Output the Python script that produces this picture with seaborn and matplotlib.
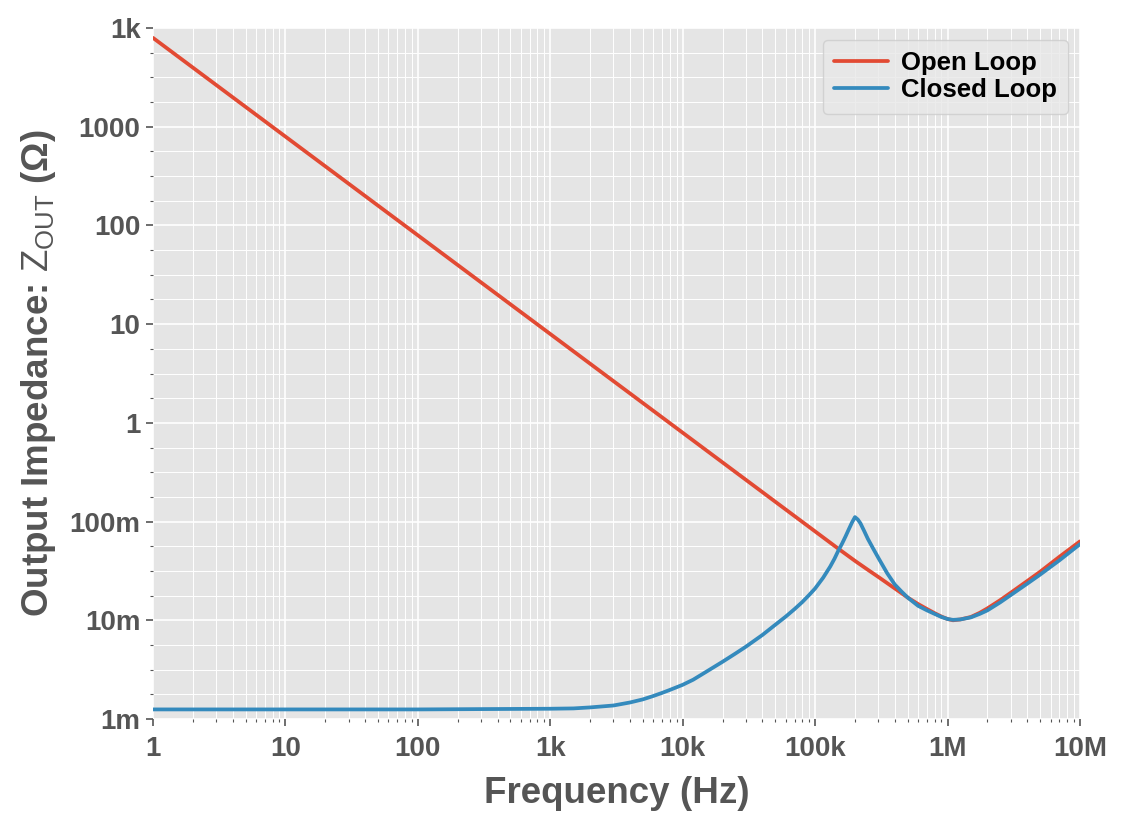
#!/usr/bin/env python3
"""
Output impedance of a regulator: open loop vs closed loop (log-log).
"""

import numpy as np
import pandas as pd
import matplotlib
matplotlib.use('Agg')
import matplotlib.pyplot as plt
from matplotlib.ticker import LogLocator, NullFormatter
import seaborn as sns

# Values
open_freq = [1, 10, 100, 1e3, 1e4, 3e4, 1e5, 1.5e5, 2e5, 2.5e5, 3e5, 3.5e5,
             4e5, 4.5e5, 5e5, 6e5, 7e5, 8e5, 9e5, 1.0e6, 1.1e6, 1.25e6,
             1.5e6, 1.75e6, 2e6, 2.5e6, 3e6, 4e6, 5e6, 7e6, 1e7]
open_z = [7950, 795, 79.5, 7.95, 0.795, 0.265, 0.0795, 0.053, 0.040, 0.0325,
          0.0275, 0.0238, 0.021, 0.0188, 0.0170, 0.0146, 0.0130, 0.0118,
          0.0109, 0.0103, 0.0100, 0.0102, 0.0108, 0.0119, 0.0132, 0.0160,
          0.0190, 0.0250, 0.0310, 0.0440, 0.0630]

closed_freq = [1, 10, 100, 1e3, 1.5e3, 2e3, 3e3, 4e3, 5e3, 6e3, 7e3, 8e3,
               1e4, 1.2e4, 1.5e4, 2e4, 2.5e4, 3e4, 4e4, 5e4, 6e4, 7e4, 8e4,
               9e4, 1e5, 1.15e5, 1.3e5, 1.4e5, 1.5e5, 1.6e5, 1.7e5, 1.8e5,
               1.9e5, 2e5, 2.1e5, 2.2e5, 2.35e5, 2.5e5, 2.75e5, 3e5, 3.5e5,
               4e5, 4.5e5, 5e5, 6e5, 7e5, 8e5, 9e5, 1e6, 1.1e6, 1.25e6,
               1.5e6, 1.75e6, 2e6, 2.5e6, 3e6, 4e6, 5e6, 7e6, 1e7]
closed_z = [1.25e-3, 1.25e-3, 1.25e-3, 1.27e-3, 1.28e-3, 1.31e-3, 1.37e-3,
            1.47e-3, 1.58e-3, 1.71e-3, 1.84e-3, 1.97e-3, 2.22e-3, 2.5e-3,
            3.0e-3, 3.8e-3, 4.6e-3, 5.4e-3, 7.1e-3, 9.0e-3, 10.9e-3,
            13.0e-3, 15.3e-3, 18e-3, 21e-3, 27e-3, 35e-3, 42e-3, 51e-3,
            60e-3, 71e-3, 84e-3, 98e-3, 111e-3, 105e-3, 96e-3, 80e-3,
            67e-3, 53e-3, 43e-3, 30e-3, 23e-3, 19.5e-3, 17e-3, 14e-3,
            12.6e-3, 11.6e-3, 10.8e-3, 10.3e-3, 10.1e-3, 10.2e-3, 10.7e-3,
            11.6e-3, 12.6e-3, 15.2e-3, 18.0e-3, 23.5e-3, 29e-3, 40.5e-3,
            59e-3]

y_ticks = [1e-3, 1e-2, 1e-1, 1, 10, 100, 1000, 1e4]
y_tick_labels = ['1m', '10m', '100m', '1', '10', '100', '1000', '1k']
x_ticks = [1, 10, 100, 1e3, 1e4, 1e5, 1e6, 1e7]
x_tick_labels = ['1', '10', '100', '1k', '10k', '100k', '1M', '10M']

df = pd.concat([
    pd.DataFrame({'freq': open_freq, 'z': open_z, 'loop': 'Open Loop'}),
    pd.DataFrame({'freq': closed_freq, 'z': closed_z, 'loop': 'Closed Loop'}),
])

sns.set_theme(style='darkgrid', rc={
    'axes.facecolor': '#E5E5E5',
    'grid.color': 'white',
    'xtick.bottom': True,
    'ytick.left': True,
    'xtick.minor.bottom': True,
    'ytick.minor.left': True,
})
plt.rcParams['font.family'] = ['Liberation Sans', 'DejaVu Sans']
plt.rcParams['mathtext.fontset'] = 'custom'
plt.rcParams['mathtext.rm'] = 'Liberation Sans'

fig = plt.figure(figsize=(11.26, 8.25), dpi=100)
ax = fig.add_axes([0.1359, 0.1285, 0.8232, 0.8375])

sns.lineplot(data=df, x='freq', y='z', hue='loop', sort=False,
             palette={'Open Loop': '#E24A33', 'Closed Loop': '#348ABD'},
             linewidth=2.7, ax=ax)

ax.set_xscale('log')
ax.set_yscale('log')
ax.set_xlim(1, 1e7)
ax.set_ylim(1e-3, 1e4)

ax.set_xticks(x_ticks)
ax.set_xticklabels(x_tick_labels)
ax.set_yticks(y_ticks)
ax.set_yticklabels(y_tick_labels)
ax.xaxis.set_minor_locator(LogLocator(base=10, subs=np.arange(2, 10), numticks=20))
ax.yaxis.set_minor_locator(LogLocator(base=10, subs=[10 ** 0.25, 10 ** 0.5, 10 ** 0.75],
                                      numticks=20))
ax.xaxis.set_minor_formatter(NullFormatter())
ax.yaxis.set_minor_formatter(NullFormatter())

ax.grid(True, which='major', color='white', linewidth=1.2)
ax.grid(True, which='minor', color='white', linewidth=0.7)

ax.tick_params(axis='both', which='major', labelsize=20, colors='#555555',
               length=5, width=1.2, direction='out', pad=4)
ax.tick_params(axis='x', which='major', pad=7)
ax.tick_params(axis='both', which='minor', colors='#555555', length=2.5,
               width=0.8, direction='out')
for lab in ax.get_xticklabels() + ax.get_yticklabels():
    lab.set_fontweight('bold')

for s in ax.spines.values():
    s.set_visible(False)

ax.set_xlabel('Frequency (Hz)', fontsize=26.5, fontweight='bold', color='#555555',
              labelpad=10)
ax.set_ylabel(r'Output Impedance: $\mathrm{Z_{OUT}}$ (Ω)', fontsize=26.5,
              fontweight='bold', color='#555555', labelpad=8)

leg = ax.legend(loc='upper right', fontsize=18.5, frameon=True, handlelength=2.1,
                borderpad=0.45, labelspacing=0.12, handletextpad=0.5,
                borderaxespad=0.45)
leg.get_frame().set_facecolor('#E8E8E8')
leg.get_frame().set_edgecolor('#CCCCCC')
for t in leg.get_texts():
    t.set_fontweight('bold')
    t.set_color('black')

fig.savefig('out.png', dpi=100)
plt.close(fig)
